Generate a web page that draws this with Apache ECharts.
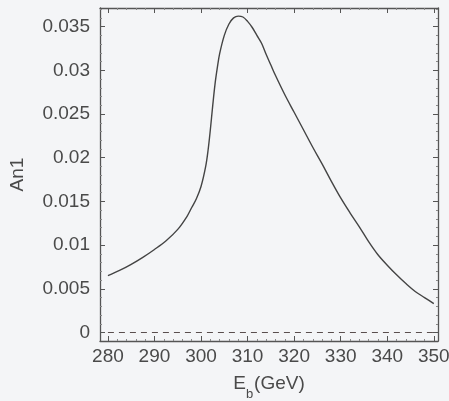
<!DOCTYPE html>
<html>
<head>
<meta charset="utf-8">
<script src="https://cdn.jsdelivr.net/npm/echarts@6/dist/echarts.min.js"></script>
<style>
  html, body { margin: 0; padding: 0; background: #f4f5f7; }
  #main { width: 449px; height: 401px; }
</style>
</head>
<body>
<div id="main"></div>
<script>
// An1 vs beam energy
var eb = [280, 282.5, 285, 287.5, 290, 292.5, 295, 297, 298, 299, 300, 301, 301.5, 302, 302.5, 303, 303.5, 304, 305, 306, 307, 308,
          309, 310, 311, 312, 313, 314, 315, 316, 318, 320, 322, 324, 326, 328, 330, 332, 334, 336, 338, 340,
          342, 344, 346, 348, 350];
var an1 = [0.0065, 0.0071, 0.0078, 0.0086, 0.0095, 0.0105, 0.0118, 0.0133, 0.0143, 0.0153, 0.0167, 0.0190, 0.0208, 0.0232, 0.0259, 0.0284, 0.0303, 0.0319, 0.0340, 0.0353, 0.0360, 0.0362,
           0.0361, 0.0356, 0.0349, 0.0340, 0.0331, 0.0318, 0.0306, 0.0294, 0.0272, 0.0252, 0.0232, 0.0212, 0.0193, 0.0173, 0.0154, 0.0137, 0.0121, 0.0104, 0.0089, 0.0077,
           0.0066, 0.0056, 0.0047, 0.0040, 0.0033];
var zeroX = [280, 350];
var zeroY = [0, 0];

var xTicks = [280, 290, 300, 310, 320, 330, 340, 350];
var yTicks = [0, 0.005, 0.01, 0.015, 0.02, 0.025, 0.03, 0.035];

function minors(major, parts) {
    var out = [];
    var step = (major[1] - major[0]) / parts;
    for (var i = -1; i < major.length; i++) {
        for (var k = 1; k < parts; k++) {
            out.push(+(major[0] + i * (major[1] - major[0]) + k * step).toFixed(6));
        }
    }
    return out;
}
var xMinor = minors(xTicks, 5);
var yMinor = minors(yTicks, 5);

var chart = echarts.init(document.getElementById('main'));

var frameColor = '#555';
var textColor = '#4a4a4a';
var font = 'Liberation Sans, Arial, sans-serif';

function mkAxis(pos, min, max, ticks, len, labels, lineShow) {
    return {
        type: 'value',
        position: pos,
        min: min,
        max: max,
        axisLine: { show: lineShow, onZero: false, lineStyle: { color: frameColor, width: 1.3 } },
        axisTick: { show: true, inside: true, length: len, customValues: ticks, lineStyle: { color: len > 3 ? frameColor : '#888', width: 1 } },
        axisLabel: labels ? {
            show: true, customValues: ticks, color: textColor, fontSize: 19, fontFamily: font,
            margin: pos === 'left' ? 10 : 6
        } : { show: false },
        splitLine: { show: false }
    };
}

var xMin = 278.3, xMax = 350.9;
var yMin = -0.00097, yMax = 0.03713;

var xName = {
    name: '{e|E}{s|b}{e|(GeV)}',
    nameLocation: 'middle',
    nameGap: 33,
    nameTextStyle: {
        rich: {
            e: { fontSize: 19, color: textColor, fontFamily: font },
            s: { fontSize: 13, color: textColor, fontFamily: font, verticalAlign: 'bottom', padding: [0, 1, -8, 0] }
        }
    }
};

var xBottom = Object.assign(mkAxis('bottom', xMin, xMax, xTicks, 5, true, true), xName);
var yLeft = Object.assign(mkAxis('left', yMin, yMax, yTicks, 5, true, true), {
    name: 'An1',
    nameLocation: 'middle',
    nameGap: 73,
    nameTextStyle: { fontSize: 19, color: textColor, fontFamily: font }
});

option = {
    backgroundColor: '#f4f5f7',
    animation: false,
    grid: { left: 100, right: 11, top: 8, bottom: 60, outerBoundsMode: 'none' },
    xAxis: [
        xBottom,
        mkAxis('bottom', xMin, xMax, xMinor, 2, false, false),
        mkAxis('top', xMin, xMax, xTicks, 5, false, true),
        mkAxis('top', xMin, xMax, xMinor, 2, false, false)
    ],
    yAxis: [
        yLeft,
        mkAxis('left', yMin, yMax, yMinor, 2, false, false),
        mkAxis('right', yMin, yMax, yTicks, 5, false, true),
        mkAxis('right', yMin, yMax, yMinor, 2, false, false)
    ],
    series: [
        {
            type: 'line',
            xAxisIndex: 0,
            yAxisIndex: 0,
            data: eb.map(function (x, i) { return [x, an1[i]]; }),
            smooth: 0.35,
            showSymbol: false,
            lineStyle: { color: '#444', width: 1.4 }
        },
        {
            type: 'line',
            xAxisIndex: 0,
            yAxisIndex: 0,
            data: zeroX.map(function (x, i) { return [x, zeroY[i]]; }),
            showSymbol: false,
            lineStyle: { color: '#5a4e4e', width: 1.1, type: [6, 5] }
        }
    ]
};
chart.setOption(option);
</script>
</body>
</html>
